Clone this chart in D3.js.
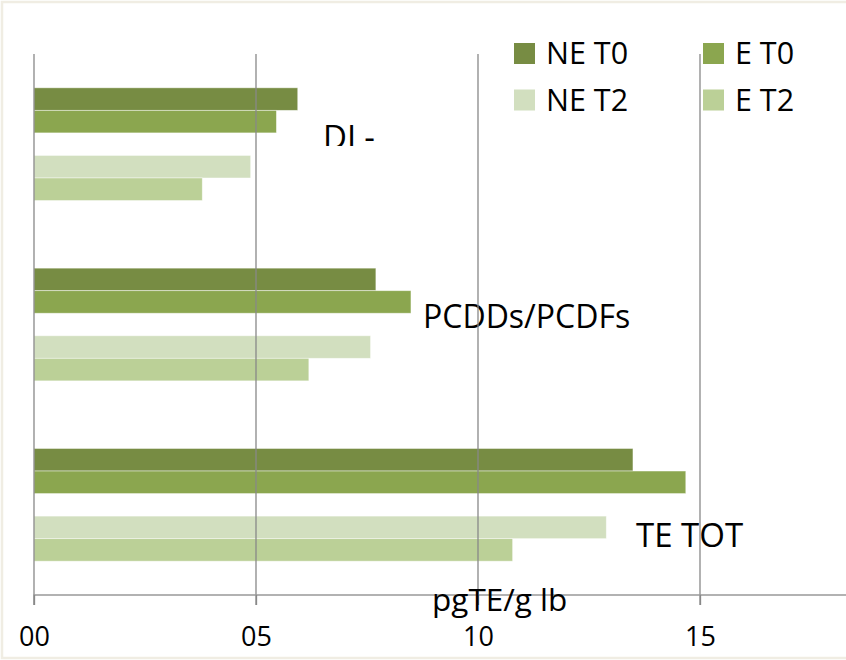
<!DOCTYPE html>
<html>
<head>
<meta charset="utf-8">
<script src="https://cdn.jsdelivr.net/npm/d3@7"></script>
<style>
  body { margin: 0; background: #fff; }
  svg { display: block; }
  text { font-family: "Open Sans", "DejaVu Sans", sans-serif; fill: #000; }
</style>
</head>
<body>
<svg id="chart" width="846" height="660"></svg>
<script>
// Data: TE levels (pgTE/g lb) per congener group, for each subject group and time point
const categories = ["DL-", "PCDDs/PCDFs", "TE TOT"];
const seriesNames = ["NE T0", "E T0", "NE T2", "E T2"];
const neT0 = [5.94, 7.70, 13.49];
const eT0  = [5.46, 8.49, 14.68];
const neT2 = [4.88, 7.58, 12.89];
const eT2  = [3.79, 6.19, 10.78];
const tickValues = [0, 5, 10, 15];
const gridValues = [0, 5, 10, 15, 20];
const axisTitle = "pgTE/g lb";

const seriesValues = [neT0, eT0, neT2, eT2];
const colors = ["#778c43", "#8ba64f", "#d2dfbf", "#bbd097"];

const svg = d3.select("#chart");
const W = 846, H = 660;

// Plot area
const plot = { left: 34, top: 54, bottom: 595 };

const x = d3.scaleLinear().domain([0, 20]).range([plot.left, plot.left + 888]);
const y = d3.scaleBand().domain(categories).range([plot.top, plot.bottom]).padding(0);
// Five slots per group: two T0 bars, an empty slot, two T2 bars
const slots = [0, 1, 3, 4];
const inner = d3.scaleBand().domain(d3.range(5)).range([0, y.bandwidth()])
  .paddingInner(0).paddingOuter(1.5);

// Frame
svg.append("rect")
  .attr("x", 2).attr("y", 2).attr("width", W + 10).attr("height", 656)
  .attr("fill", "#fff").attr("stroke", "#f0ede3").attr("stroke-width", 2.5);

// Bars
const rows = [];
categories.forEach((c, ci) => {
  seriesNames.forEach((s, si) => rows.push({ cat: c, si, value: seriesValues[si][ci] }));
});
svg.append("g").selectAll("rect").data(rows).join("rect")
  .attr("x", x(0))
  .attr("y", d => y(d.cat) + inner(slots[d.si]))
  .attr("width", d => x(d.value) - x(0))
  .attr("height", inner.bandwidth())
  .attr("fill", d => colors[d.si])
  .attr("stroke", "#ffffff").attr("stroke-opacity", 0.55).attr("stroke-width", 0.8);

// Category labels
const labelLayout = [
  { dx: 323, dy: 95, size: 33, clipTo: 146 },
  { dx: 423, dy: 93.7, size: 32 },
  { dx: 636, dy: 132.3, size: 33 }
];
const defs = svg.append("defs");
defs.append("clipPath").attr("id", "clip-dl")
  .append("rect").attr("x", 0).attr("y", 0).attr("width", W).attr("height", labelLayout[0].clipTo);
svg.append("g").selectAll("text").data(categories).join("text")
  .attr("x", (d, i) => labelLayout[i].dx)
  .attr("y", (d, i) => y(d) + labelLayout[i].dy)
  .attr("clip-path", (d, i) => labelLayout[i].clipTo ? "url(#clip-dl)" : null)
  .style("font-size", (d, i) => labelLayout[i].size + "px")
  .text(d => d);

// Legend
const legendPos = [[514, 43], [703, 43], [514, 89.5], [703, 89.5]];
const lg = svg.append("g").selectAll("g").data(seriesNames).join("g")
  .attr("transform", (d, i) => `translate(${legendPos[i][0]},${legendPos[i][1]})`);
lg.append("rect").attr("width", 21).attr("height", 21).attr("fill", (d, i) => colors[i]);
lg.append("text").attr("x", 32).attr("y", 21).style("font-size", "30.5px").text(d => d);

// Vertical gridlines (drawn over bars and labels)
svg.append("g").selectAll("line").data(gridValues).join("line")
  .attr("x1", d => x(d)).attr("x2", d => x(d))
  .attr("y1", plot.top).attr("y2", plot.bottom + 10)
  .attr("stroke", "#888").attr("stroke-width", 1.3);

// Bottom axis
const axis = d3.axisBottom(x).tickValues(tickValues).tickSize(10).tickFormat(d3.format("02d"));
const ax = svg.append("g").attr("transform", `translate(0,${plot.bottom})`).call(axis);
ax.select(".domain").attr("stroke", "#999").attr("stroke-width", 1.3)
  .attr("d", `M${plot.left},10V0H${W + 20}`);
ax.selectAll(".tick line").attr("stroke", "#888").attr("stroke-width", 1.3);
ax.selectAll(".tick text")
  .attr("y", 51).attr("dy", 0)
  .style("font-size", "27px").style("font-family", "'Open Sans', sans-serif").attr("fill", "#000");

// Axis title
svg.append("text")
  .attr("x", 432).attr("y", 611)
  .style("font-size", "31.5px")
  .text(axisTitle);
</script>
</body>
</html>
